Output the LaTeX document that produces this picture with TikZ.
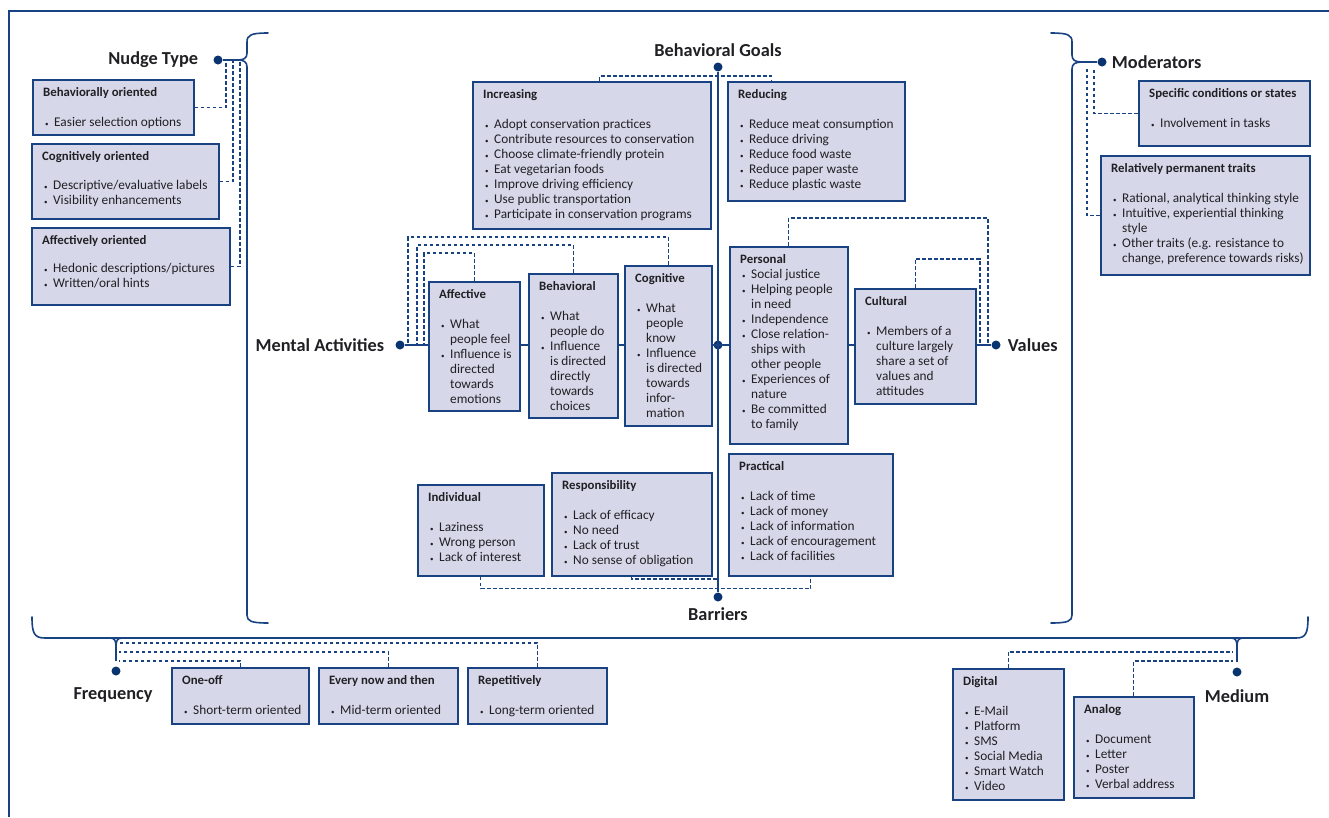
\documentclass[tikz,border=0pt]{standalone}
\usepackage{fontspec}
\setmainfont{Carlito}
\usetikzlibrary{positioning}
\definecolor{navy}{RGB}{24,66,130}
\definecolor{dotblue}{RGB}{10,52,112}
\definecolor{panelfill}{RGB}{214,216,233}
\definecolor{textdark}{RGB}{32,32,36}

% bullet, continuation indent, panel heading
\newcommand{\bu}{\makebox[11pt][l]{\hspace{2pt}\raisebox{0.1ex}{\scriptsize\textbullet}}}
\newcommand{\ci}{\hspace*{11pt}}
\newcommand{\hd}[1]{{\fontsize{12.8}{15}\selectfont\bfseries #1}}
% name, x, y, width, height, text
\newcommand{\panel}[6]{%
  \node[panel, minimum width=#4, minimum height=#5] (#1) at (#2,#3) {};
  \node[paneltext] (#1-t) at (#1.north west) {#6};}

\begin{document}
\begin{tikzpicture}[x=1pt, y=-1pt,
    panel/.style={draw=navy, line width=1.6pt, fill=panelfill,
                  anchor=north west, inner sep=0pt},
    paneltext/.style={anchor=north west, inner xsep=11pt, inner ysep=8.5pt,
                      align=left, text=textdark,
                      font=\fontsize{13.3}{15}\selectfont},
    dot/.style={circle, fill=dotblue, inner sep=0pt, minimum size=9pt},
    title/.style={font=\fontsize{18.3}{21}\selectfont\bfseries,
                  text=textdark, inner sep=0pt},
    conn/.style={navy, line width=1.5pt},
    dashconn/.style={navy, line width=1.25pt, dash pattern=on 3.8pt off 2.2pt},
    brace/.style={navy, line width=1.6pt, line cap=round}
  ]
  \useasboundingbox (0,0) rectangle (1329,817);
  \draw[navy, line width=1.4pt] (9,817) -- (9,11) -- (1329,11);

  % dots and titles
  \node[dot] (dnudge) at (218,60) {};
  \node[dot] (dmod) at (1102,62) {};
  \node[dot] (dgoals) at (718,67) {};
  \node[dot] (dbarr) at (718,597) {};
  \node[dot] (dmental) at (400,345) {};
  \node[dot] (dvalues) at (996,345) {};
  \node[dot] (dcenter) at (718,345) {};
  \node[dot] (dfreq) at (116,671) {};
  \node[dot] (dmed) at (1237,672) {};

  \node[title, left=15pt of dnudge] (tnudge) {Nudge Type};
  \node[title, right=5pt of dmod] (tmod) {Moderators};
  \node[title, above=5pt of dgoals] (tgoals) {Behavioral Goals};
  \node[title, below=6pt of dbarr] (tbarr) {Barriers};
  \node[title, left=11pt of dmental] (tmental) {Mental Activities};
  \node[title, right=7pt of dvalues] (tvalues) {Values};
  \node[title, below=12pt of dfreq, xshift=-3pt] (tfreq) {Frequency};
  \node[title, below=13pt of dmed] (tmed) {Medium};

  % braces
  \coordinate (nudgetip) at (238,60);
  \coordinate (modtip) at (1082,62);
  \coordinate (freqtip) at (116,646);
  \coordinate (medtip) at (1237,646);
  \draw[brace] (268,33) .. controls (251,33) and (247,35) .. (247,42) -- (247,53)
    .. controls (247,58) and (244,60) .. (nudgetip)
    .. controls (244,60) and (247,62) .. (247,67) -- (247,615)
    .. controls (247,621) and (251,623) .. (268,623);
  \draw[brace] (1051,33) .. controls (1068,33) and (1072,35) .. (1072,42) -- (1072,55)
    .. controls (1072,60) and (1075,62) .. (modtip)
    .. controls (1075,62) and (1072,64) .. (1072,69) -- (1072,615)
    .. controls (1072,621) and (1068,623) .. (1051,623);
  \draw[brace] (32,617) .. controls (32,633) and (34,638) .. (45,638) -- (1296,638)
    .. controls (1306,638) and (1308,633) .. (1308,617);
  \draw[brace] (110,638) .. controls (114,638) and (116,640) .. (freqtip)
    .. controls (116,640) and (118,638) .. (122,638);
  \draw[brace] (1231,638) .. controls (1235,638) and (1237,640) .. (medtip)
    .. controls (1237,640) and (1239,638) .. (1243,638);
  \draw[conn] (dnudge) -- (nudgetip);
  \draw[conn] (dmod) -- (modtip);
  \draw[conn] (freqtip) -- ([yshift=5pt]dfreq.north);
  \draw[conn] (medtip) -- ([yshift=5pt]dmed.north);

  % axes
  \draw[conn] (dgoals) -- (dbarr);
  \draw[conn] (dmental) -- (dvalues);

  % nudge type
  \panel{nb1}{32}{79}{161}{55}{\hd{Behaviorally oriented}\\[15pt]\bu Easier selection options}
  \panel{nb2}{31}{143}{187}{75}{\hd{Cognitively oriented}\\[14pt]\bu Descriptive/evaluative labels\\\bu Visibility enhancements}
  \panel{nb3}{31}{227}{198}{77}{\hd{Affectively oriented}\\[13pt]\bu Hedonic descriptions/pictures\\\bu Written/oral hints}

  % behavioral goals
  \panel{inc}{472}{81}{238}{147}{\hd{Increasing}\\[15pt]\bu Adopt conservation practices\\\bu Contribute resources to conservation\\\bu Choose climate-friendly protein\\\bu Eat vegetarian foods\\\bu Improve driving efficiency\\\bu Use public transportation\\\bu Participate in conservation programs}
  \panel{red}{727}{81}{177}{119}{\hd{Reducing}\\[15pt]\bu Reduce meat consumption\\\bu Reduce driving\\\bu Reduce food waste\\\bu Reduce paper waste\\\bu Reduce plastic waste}

  % mental activities
  \panel{aff}{428}{281}{91}{129}{\hd{Affective}\\[15pt]\bu What\\\ci people feel\\\bu Influence is\\\ci directed\\\ci towards\\\ci emotions}
  \panel{beh}{528}{273}{89}{144}{\hd{Behavioral}\\[15pt]\bu What\\\ci people do\\\bu Influence\\\ci is directed\\\ci directly\\\ci towards\\\ci choices}
  \panel{cog}{624}{265}{87}{160}{\hd{Cognitive}\\[15pt]\bu What\\\ci people\\\ci know\\\bu Influence\\\ci is directed\\\ci towards\\\ci infor-\\\ci mation}

  % values
  \panel{per}{729}{246}{118}{197}{\hd{Personal}\\\bu Social justice\\\bu Helping people\\\ci in need\\\bu Independence\\\bu Close relation-\\\ci ships with\\\ci other people\\\bu Experiences of\\\ci nature\\\bu Be committed\\\ci to family}
  \panel{cul}{854}{288}{121}{115}{\hd{Cultural}\\[15pt]\bu Members of a\\\ci culture largely\\\ci share a set of\\\ci values and\\\ci attitudes}

  % barriers
  \panel{ind}{417}{484}{126}{91}{\hd{Individual}\\[15pt]\bu Laziness\\\bu Wrong person\\\bu Lack of interest}
  \panel{res}{551}{472}{160}{103}{\hd{Responsibility}\\[15pt]\bu Lack of efficacy\\\bu No need\\\bu Lack of trust\\\bu No sense of obligation}
  \panel{pra}{728}{453}{164}{122}{\hd{Practical}\\[15pt]\bu Lack of time\\\bu Lack of money\\\bu Lack of information\\\bu Lack of encouragement\\\bu Lack of facilities}

  % moderators
  \panel{spec}{1138}{80}{171}{65}{\hd{Specific conditions or states}\\[15pt]\bu Involvement in tasks}
  \panel{rel}{1100}{155}{209}{119}{\hd{Relatively permanent traits}\\[15pt]\bu Rational, analytical thinking style\\\bu Intuitive, experiential thinking\\\ci style\\\bu Other traits (e.g. resistance to\\\ci change, preference towards risks)}

  % frequency
  \panel{one}{171}{667}{137}{56}{\hd{One-off}\\[15pt]\bu Short-term oriented}
  \panel{every}{318}{667}{139}{56}{\hd{Every now and then}\\[15pt]\bu Mid-term oriented}
  \panel{rep}{467}{667}{139}{56}{\hd{Repetitively}\\[15pt]\bu Long-term oriented}

  % medium
  \panel{dig}{952}{668}{111}{131}{\hd{Digital}\\[15pt]\bu E-Mail\\\bu Platform\\\bu SMS\\\bu Social Media\\\bu Smart Watch\\\bu Video}
  \panel{ana}{1073}{696}{120}{101}{\hd{Analog}\\[15pt]\bu Document\\\bu Letter\\\bu Poster\\\bu Verbal address}

  % dashed links
  \draw[dashconn] (nb1.east) -| ([xshift=8pt]dnudge.center);
  \draw[dashconn] (nb2.east) -| ([xshift=15pt]dnudge.center);
  \draw[dashconn] (nb3.east) -| ([xshift=22pt]dnudge.center);
  \draw[dashconn] (spec.west) -| ([xshift=-8pt,yshift=-6pt]dmod.center);
  \draw[dashconn] (rel.west) -| ([xshift=-15pt,yshift=-6pt]dmod.center);
  \draw[dashconn] ([xshift=8pt]inc.north) -- ++(0,-5) -| ([xshift=-45pt]red.north);
  \draw[dashconn] (aff.north) -- ++(0,-28) -| ([xshift=24pt]dmental.center);
  \draw[dashconn] (beh.north) -- ++(0,-28) -| ([xshift=17pt]dmental.center);
  \draw[dashconn] (cog.north) -- ++(0,-28) -| ([xshift=8pt]dmental.center);
  \draw[dashconn] (per.north) -- ++(0,-28) -| ([xshift=-8pt]dvalues.center);
  \draw[dashconn] (cul.north) -- ++(0,-29) -| ([xshift=-16pt]dvalues.center);
  \draw[dashconn] (ind.south) -- ++(0,12) -| (pra.south);
  \draw[dashconn] (res.south) |- ([yshift=18pt]dbarr.center);
  \draw[dashconn] (one.north) |- ([xshift=3pt,yshift=10pt]dfreq.center);
  \draw[dashconn] (every.north) |- ([xshift=3pt,yshift=19pt]dfreq.center);
  \draw[dashconn] (rep.north) |- ([xshift=3pt,yshift=28pt]dfreq.center);
  \draw[dashconn] (dig.north) |- ([xshift=-4pt,yshift=20pt]dmed.center);
  \draw[dashconn] (ana.north) |- ([xshift=-4pt,yshift=11pt]dmed.center);
\end{tikzpicture}
\end{document}
